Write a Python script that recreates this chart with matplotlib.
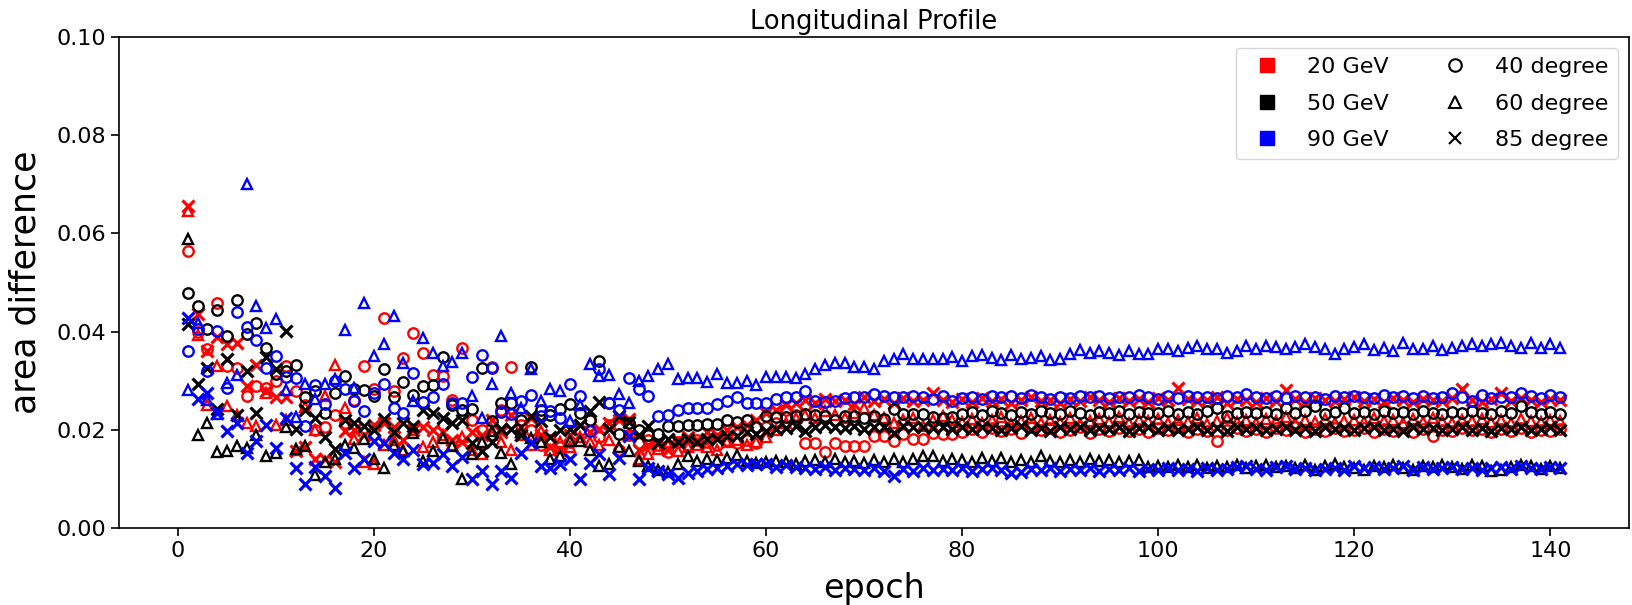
import numpy as np
import matplotlib.pyplot as plt
from matplotlib.lines import Line2D

epoch = np.arange(1, 142)

# area difference per epoch (units of 1e-3)
# 20 GeV
r40 = [56.4, 40.0, 36.4, 45.9, 33.0, 32.7, 27.0, 29.0, 28.6, 30.0,
       33.0, 27.9, 25.0, 20.0, 20.5, 23.0, 21.5, 26.0, 33.1, 28.3,
       42.7, 28.0, 34.7, 39.8, 35.6, 31.1, 31.0, 26.0, 36.6, 22.1,
       20.0, 32.9, 24.0, 32.9, 21.0, 20.0, 17.0, 18.0, 16.5, 17.5,
       20.0, 22.0, 18.5, 21.0, 16.0, 19.0, 17.4, 18.0, 17.0, 15.5,
       17.5, 17.0, 18.0, 17.5, 17.0, 18.0, 17.4, 18.0, 17.3, 20.5,
       21.5, 24.0, 23.0, 17.4, 17.4, 15.5, 17.4, 16.7, 16.7, 16.7,
       18.8, 18.8, 17.8, 19.1, 18.1, 18.1, 19.4, 19.1, 19.1, 19.6,
       20.2, 19.5, 20.4, 19.8, 20.1, 19.3, 20.5, 19.9, 20.3, 19.6,
       20.0, 20.6, 19.4, 20.2, 19.8, 20.4, 19.7, 20.1, 19.5, 20.3,
       19.9, 20.5, 19.6, 20.2, 19.8, 17.8, 20.0, 20.4, 19.7, 20.1,
       19.5, 20.3, 19.9, 20.6, 19.6, 20.2, 19.8, 20.4, 19.7, 20.0,
       20.3, 19.5, 20.1, 19.8, 20.5, 19.6, 20.2, 18.8, 20.0, 19.7,
       20.4, 19.9, 20.2, 19.5, 20.1, 19.8, 20.3, 19.6, 20.0, 19.7, 20.2]
r60 = [64.5, 39.4, 25.0, 33.0, 24.9, 23.0, 21.5, 20.8, 27.6, 21.0,
       22.0, 16.0, 24.6, 20.0, 26.9, 33.3, 24.5, 18.1, 13.5, 13.0,
       17.0, 18.0, 16.0, 20.0, 16.5, 17.5, 19.0, 17.0, 18.5, 16.0,
       15.0, 19.0, 17.5, 16.0, 19.0, 17.0, 19.8, 16.0, 17.5, 16.5,
       18.5, 17.5, 17.0, 18.0, 16.5, 19.0, 14.0, 15.0, 16.2, 17.0,
       15.7, 16.5, 17.0, 16.5, 16.0, 17.5, 18.0, 17.0, 17.6, 18.5,
       20.0, 21.5, 22.5, 23.0, 22.5, 23.8, 23.0, 22.5, 23.5, 24.5,
       23.0, 22.5, 21.5, 22.0, 22.5, 20.8, 22.0, 22.8, 22.0, 21.6,
       22.3, 21.4, 22.0, 22.6, 21.2, 21.8, 22.4, 21.5, 22.1, 21.7,
       22.5, 21.3, 21.9, 22.2, 21.6, 22.7, 21.4, 22.0, 21.8, 22.3,
       21.5, 22.1, 21.7, 22.4, 21.3, 21.9, 22.5, 21.6, 22.0, 21.4,
       22.2, 21.8, 22.6, 21.5, 22.0, 21.7, 22.3, 21.4, 21.9, 22.1,
       21.6, 22.4, 21.8, 22.0, 21.5, 22.2, 21.7, 22.5, 21.9, 21.4,
       22.1, 21.8, 22.3, 21.6, 22.0, 21.5, 22.2, 21.9, 21.7, 22.0, 21.8]
r85 = [65.5, 43.5, 36.0, 39.0, 37.5, 37.7, 29.0, 33.3, 28.0, 26.6,
       26.6, 15.7, 16.5, 14.0, 14.0, 13.5, 19.8, 20.0, 19.0, 21.0,
       21.5, 20.5, 18.0, 20.0, 20.5, 20.0, 19.5, 18.0, 17.5, 19.5,
       19.0, 22.0, 19.5, 23.0, 20.5, 22.5, 19.0, 16.5, 16.0, 19.0,
       21.0, 19.5, 20.1, 21.5, 22.0, 22.2, 16.0, 17.0, 17.5, 16.0,
       18.0, 18.5, 18.0, 19.5, 19.0, 20.0, 20.5, 21.0, 22.0, 23.5,
       24.0, 25.0, 25.5, 26.1, 25.4, 26.3, 25.8, 26.0, 25.2, 26.6,
       25.9, 26.2, 25.5, 26.4, 25.8, 26.1, 27.5, 26.0, 25.6, 26.3,
       25.7, 26.5, 25.9, 26.2, 25.4, 26.0, 26.6, 25.8, 26.1, 25.5,
       26.3, 25.9, 26.7, 26.0, 25.6, 26.4, 25.8, 26.2, 25.7, 26.5,
       26.0, 28.6, 26.3, 25.8, 26.1, 26.6, 25.5, 26.2, 26.0, 25.7,
       26.4, 25.9, 28.1, 26.2, 25.6, 26.5, 26.0, 25.8, 26.3, 26.6,
       25.9, 26.2, 25.7, 26.4, 26.0, 25.6, 26.3, 26.1, 25.8, 26.5,
       28.3, 26.0, 25.7, 26.2, 27.6, 25.9, 26.4, 26.0, 25.7, 26.3, 26.1]
# 50 GeV
k40 = [47.9, 45.3, 40.6, 44.5, 39.1, 46.4, 39.5, 41.8, 36.7, 31.3,
       32.0, 33.3, 26.6, 28.0, 23.5, 27.5, 31.0, 28.4, 28.2, 27.0,
       32.5, 26.6, 29.7, 27.1, 28.9, 29.1, 34.9, 25.0, 24.0, 24.3,
       32.7, 21.8, 25.4, 25.4, 22.1, 32.9, 24.0, 23.0, 24.2, 25.2,
       23.5, 22.0, 34.0, 25.5, 19.1, 21.5, 20.0, 19.0, 19.1, 20.8,
       20.8, 21.0, 21.0, 21.3, 21.3, 22.1, 21.6, 22.1, 20.5, 22.8,
       22.7, 22.7, 22.8, 23.2, 23.0, 22.8, 22.1, 22.8, 22.8, 22.5,
       22.8, 22.2, 24.3, 23.2, 23.2, 23.2, 22.7, 22.5, 22.7, 23.3,
       23.6, 23.1, 23.8, 23.4, 23.0, 23.7, 23.3, 23.9, 23.5, 23.2,
       23.8, 23.4, 23.1, 23.7, 23.5, 23.9, 23.3, 23.6, 23.5, 23.4,
       23.8, 23.3, 23.6, 23.2, 23.9, 24.5, 22.8, 23.5, 23.7, 23.4,
       23.6, 23.2, 24.5, 23.5, 23.8, 24.9, 23.3, 23.6, 24.4, 23.5,
       23.7, 23.3, 23.9, 23.4, 23.6, 23.2, 23.8, 23.5, 23.3, 23.7,
       23.4, 23.9, 23.5, 23.2, 23.8, 23.4, 24.9, 23.6, 23.3, 23.7, 23.2]
k60 = [58.9, 18.9, 21.5, 15.5, 15.7, 16.7, 16.4, 18.9, 14.7, 15.3,
       20.5, 16.2, 16.7, 10.9, 13.5, 14.0, 17.0, 16.4, 18.1, 14.0,
       12.3, 17.0, 15.7, 19.4, 13.7, 15.7, 18.4, 16.7, 10.1, 15.0,
       17.5, 19.8, 15.2, 13.0, 19.6, 18.4, 17.5, 14.0, 14.7, 17.8,
       17.8, 16.0, 12.6, 13.0, 16.5, 15.7, 13.7, 12.6, 11.8, 11.4,
       13.0, 14.6, 13.7, 14.0, 13.9, 14.2, 14.8, 13.7, 13.3, 13.5,
       13.7, 13.5, 13.0, 13.6, 13.9, 13.4, 14.1, 13.5, 13.7, 13.2,
       13.8, 13.4, 14.0, 13.5, 14.1, 14.7, 14.7, 13.6, 14.0, 13.8,
       13.5, 14.2, 13.6, 14.3, 13.4, 13.9, 13.5, 14.6, 13.7, 13.4,
       13.8, 13.5, 14.0, 13.6, 13.9, 13.4, 13.7, 13.9, 12.5, 12.7,
       12.4, 12.8, 12.5, 12.9, 12.3, 12.7, 12.5, 12.8, 12.2, 12.6,
       12.9, 12.4, 12.7, 12.3, 12.8, 11.9, 12.6, 13.0, 12.4, 12.2,
       11.8, 12.6, 12.5, 12.9, 12.3, 11.8, 12.7, 12.5, 12.8, 12.4,
       12.0, 12.9, 12.6, 11.7, 11.9, 12.5, 12.8, 12.6, 12.0, 12.7, 12.3]
k85 = [41.5, 29.3, 32.7, 24.2, 34.5, 23.0, 32.0, 23.5, 34.9, 32.3,
       40.1, 20.1, 24.0, 22.5, 18.5, 16.2, 22.0, 21.5, 20.8, 20.0,
       22.3, 19.5, 21.5, 20.8, 24.1, 23.5, 22.5, 21.5, 22.1, 17.3,
       15.7, 17.5, 20.1, 20.1, 19.0, 22.8, 21.8, 18.6, 20.0, 20.1,
       21.0, 23.9, 25.6, 20.1, 22.8, 21.6, 19.0, 20.8, 17.4, 18.2,
       17.5, 18.2, 17.5, 18.2, 18.2, 18.8, 18.8, 19.6, 19.1, 19.8,
       20.1, 20.3, 20.8, 19.8, 20.5, 20.9, 20.6, 20.4, 20.7, 20.1,
       20.6, 20.5, 19.4, 20.7, 20.5, 20.6, 20.3, 20.6, 20.2, 20.5,
       20.1, 20.6, 20.3, 19.9, 20.4, 20.7, 20.0, 20.3, 19.8, 20.5,
       20.2, 20.6, 19.9, 20.4, 20.1, 20.5, 19.8, 20.3, 20.6, 20.0,
       20.4, 19.9, 20.2, 20.6, 20.0, 20.3, 19.7, 20.5, 20.1, 20.4,
       19.9, 20.2, 20.6, 20.0, 20.3, 19.8, 20.5, 20.1, 20.4, 19.9,
       20.3, 20.6, 20.0, 20.2, 19.8, 20.5, 20.1, 20.4, 19.9, 20.2,
       20.6, 20.0, 20.3, 19.8, 20.4, 20.1, 20.5, 19.9, 20.2, 20.6, 20.0]
# 90 GeV
b40 = [36.0, 40.6, 32.0, 40.1, 28.6, 44.0, 41.0, 38.3, 32.7, 35.0,
       30.8, 30.6, 20.8, 29.1, 25.2, 30.0, 28.4, 25.9, 23.8, 27.6,
       29.3, 24.5, 23.5, 31.6, 25.7, 26.7, 29.3, 25.4, 25.4, 30.8,
       35.2, 32.7, 23.6, 23.2, 25.9, 27.2, 22.8, 23.8, 22.5, 29.3,
       26.9, 19.8, 32.3, 25.5, 24.0, 30.5, 28.4, 26.9, 22.8, 23.0,
       24.0, 24.5, 24.5, 24.5, 25.2, 25.9, 26.6, 25.5, 25.5, 25.5,
       26.2, 26.6, 26.6, 27.9, 25.9, 25.7, 25.9, 26.4, 26.6, 26.8,
       27.3, 26.9, 26.8, 26.8, 27.0, 26.6, 26.2, 26.9, 25.9, 26.5,
       26.8, 26.3, 27.0, 26.6, 26.9, 26.4, 27.1, 26.7, 26.3, 26.8,
       26.5, 27.0, 26.6, 26.9, 26.4, 26.8, 26.6, 27.1, 26.7, 26.3,
       26.9, 26.5, 27.0, 26.6, 26.8, 26.4, 26.9, 26.6, 27.3, 26.7,
       26.5, 26.9, 26.4, 27.0, 26.6, 26.8, 26.3, 26.9, 26.6, 27.0,
       26.7, 26.4, 27.1, 26.6, 26.9, 26.5, 27.0, 26.4, 26.8, 27.6,
       26.6, 25.9, 27.2, 26.5, 26.8, 26.6, 27.6, 26.9, 26.5, 27.1, 26.7]
b60 = [28.1, 41.8, 26.0, 23.2, 29.5, 31.1, 70.0, 45.3, 40.8, 42.6,
       28.1, 22.7, 29.3, 26.2, 29.3, 30.3, 40.4, 28.5, 45.9, 35.0,
       37.4, 43.1, 33.7, 25.9, 38.8, 35.7, 33.1, 33.8, 35.6, 27.0,
       22.5, 29.3, 39.2, 27.6, 24.5, 32.3, 25.9, 28.4, 27.9, 21.8,
       25.0, 33.5, 30.9, 31.1, 27.4, 25.5, 30.0, 31.0, 32.3, 33.5,
       30.3, 30.6, 30.5, 29.8, 31.3, 29.5, 29.5, 30.0, 29.1, 30.8,
       30.8, 30.8, 30.6, 31.3, 32.3, 33.3, 33.7, 33.7, 32.9, 32.9,
       32.5, 34.0, 34.4, 35.4, 34.4, 34.5, 34.5, 34.5, 34.9, 34.1,
       35.0, 35.2, 34.7, 34.3, 35.2, 34.5, 34.7, 35.0, 34.3, 34.5,
       35.5, 36.2, 35.7, 36.0, 35.7, 35.2, 36.0, 35.5, 35.4, 36.4,
       36.4, 36.1, 36.7, 37.1, 36.4, 36.4, 35.7, 36.1, 37.1, 36.4,
       37.1, 36.8, 36.4, 36.8, 37.5, 36.8, 36.4, 35.4, 36.4, 36.8,
       37.4, 36.2, 36.6, 36.0, 37.7, 36.4, 36.4, 37.1, 36.2, 36.7,
       37.1, 37.4, 37.1, 37.4, 37.7, 37.1, 36.7, 37.7, 36.7, 37.4, 36.7]
b85 = [42.8, 26.2, 27.5, 23.5, 19.8, 21.5, 15.4, 17.8, 20.9, 16.4,
       22.5, 12.3, 8.9, 12.5, 10.6, 8.2, 15.4, 12.3, 14.0, 17.8,
       17.4, 15.4, 14.0, 16.0, 13.0, 13.3, 15.0, 12.7, 14.5, 10.0,
       11.6, 8.9, 11.6, 10.3, 15.4, 17.4, 12.6, 12.3, 13.0, 14.0,
       10.1, 13.3, 15.0, 11.0, 14.3, 18.8, 10.0, 12.3, 11.6, 11.0,
       10.3, 11.3, 11.6, 12.1, 12.3, 12.7, 13.0, 12.8, 13.0, 13.1,
       12.5, 12.8, 12.4, 12.2, 12.0, 12.4, 11.9, 12.3, 12.1, 11.8,
       12.2, 11.7, 10.6, 12.0, 11.6, 12.3, 11.8, 12.1, 11.9, 12.2,
       11.7, 12.0, 12.3, 11.8, 11.2, 11.5, 12.1, 11.9, 12.2, 11.6,
       12.0, 11.8, 12.3, 11.7, 12.1, 11.9, 12.2, 11.6, 12.0, 11.8,
       12.2, 11.9, 12.1, 11.7, 12.3, 11.8, 12.0, 12.4, 12.6, 12.1,
       11.9, 12.5, 12.7, 12.0, 12.2, 11.8, 12.1, 12.3, 11.9, 12.6,
       12.2, 12.5, 12.0, 12.3, 12.7, 11.9, 12.4, 12.1, 12.2, 12.5,
       12.0, 12.3, 11.9, 12.2, 12.4, 12.1, 12.6, 12.3, 12.0, 12.4, 12.2]

energies = ['20 GeV', '50 GeV', '90 GeV']
angles = ['40 degree', '60 degree', '85 degree']
colors = ['red', 'black', 'blue']
markers = ['o', '^', 'x']
data = [[r40, r60, r85], [k40, k60, k85], [b40, b60, b85]]

fig = plt.figure(figsize=(16.32, 6.05), dpi=100)
ax = fig.add_axes([0.073, 0.127, 0.925, 0.812])

for c, group in zip(colors, data):
    for m, vals in zip(markers, group):
        if m == 'x':
            ax.plot(epoch, np.array(vals) * 1e-3, linestyle='none', marker=m,
                    markersize=8.5, markeredgewidth=2.3, color=c)
        else:
            ax.plot(epoch, np.array(vals) * 1e-3, linestyle='none', marker=m,
                    markersize=7.5, markeredgewidth=1.7, markeredgecolor=c,
                    markerfacecolor='none')

ax.set_ylim(0, 0.1)
ax.set_yticks(np.arange(0, 0.101, 0.02))
ax.yaxis.set_major_formatter(plt.FormatStrFormatter('%.2f'))
ax.tick_params(labelsize=16, length=6, width=1.2)
for s in ax.spines.values():
    s.set_linewidth(1.2)

ax.set_title('Longitudinal Profile', fontsize=18.5)
ax.set_xlabel('epoch', fontsize=24, labelpad=8)
ax.set_ylabel('area difference', fontsize=25, labelpad=10)

handles = [Line2D([], [], linestyle='none', marker='s', color=c, markersize=10)
           for c in colors]
handles += [Line2D([], [], linestyle='none', marker=m, color='black',
                   markerfacecolor='none', markersize=9, markeredgewidth=1.5)
            for m in markers]
ax.legend(handles, energies + angles, ncol=2, loc='upper right', fontsize=16,
          labelspacing=0.75)

fig.savefig('out.png', dpi=100)
